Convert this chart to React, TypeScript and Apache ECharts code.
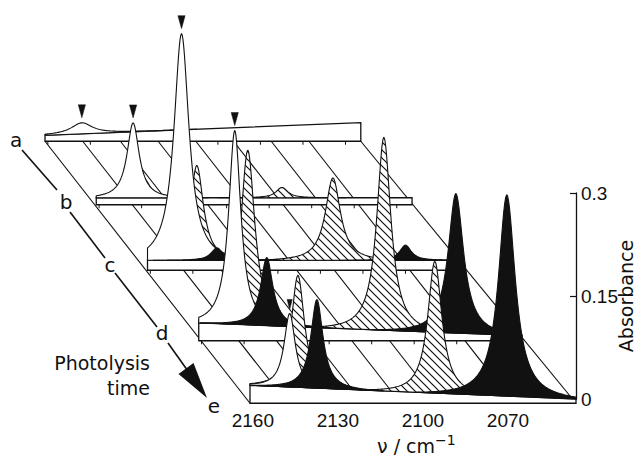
import React, { useEffect, useRef } from 'react';
import * as echarts from 'echarts';

// ---- data ----
const spectrumLabels = ['a', 'b', 'c', 'd', 'e'];
// peak rows: [wavenumber / cm-1, peak absorbance above baseline, half width at half height / cm-1, fill (0 open, 1 hatched, 2 solid), arrow mark]
const peaksA = [[2148, 0.016, 4.5, 0, 1]];
const peaksB = [[2144, 0.027, 2.5, 1, 0], [2095.5, 0.015, 2.5, 1, 0], [2148, 0.109, 2.6, 0, 1]];
const peaksC = [[2143.6, 0.138, 2.8, 1, 0], [2095.6, 0.12, 3.2, 1, 0], [2149, 0.33, 3.2, 0, 1], [2136.5, 0.018, 2.5, 2, 0], [2070, 0.022, 2.5, 2, 0]];
const peaksD = [[2143.7, 0.254, 3.0, 1, 0], [2095.7, 0.281, 3.0, 1, 0], [2148.3, 0.282, 2.6, 0, 1], [2137, 0.099, 2.6, 2, 0], [2070.3, 0.203, 3.3, 2, 0]];
const peaksE = [[2144.1, 0.163, 2.8, 1, 0], [2095.8, 0.192, 3.0, 1, 0], [2147, 0.107, 2.4, 0, 1], [2137.4, 0.129, 2.6, 2, 0], [2070.4, 0.293, 3.6, 2, 0]];
const spectraPeaks = [peaksA, peaksB, peaksC, peaksD, peaksE];
const baselineStart = [0.02, 0.02, 0.02, 0.02, 0.02];
const baselineEnd = [0.039, 0.02, 0.02, 0.001, 0.0];
const slabStart = [2161, 2161, 2161, 2161, 2161];
const slabEnd = [2049.6, 2049.6, 2049.6, 2047, 2046];
const guideFrom = [2161, 2147.7, 2134.4, 2121.1, 2107.8, 2094.5, 2081.2, 2067.9, 2049.6];
const guideTo = [2161, 2147.7, 2134.4, 2121.1, 2107.8, 2094.5, 2081.2, 2067.9, 2046];
const xTickValues = [2160, 2145, 2130, 2115, 2100, 2085, 2070, 2055];
const xLabelValues = [2160, 2130, 2100, 2070];
const yTickValues = [0, 0.15, 0.3];

// ---- layout / style ----
const NU_L = 2161;
const NU_R = 2046;
const DX = 51.25;
const DY = 62.5;
const slabDepth = [6, 7, 10, 18, 18];
const INK = '#111';
const TEXT_FONT = 'DejaVu Sans';
const NUM_FONT = 'Liberation Sans';

function baseAt(k: number, nu: number) {
  const t = (NU_L - nu) / (NU_L - NU_R);
  return baselineStart[k] + (baselineEnd[k] - baselineStart[k]) * t;
}

function makePoint(api: any, k: number) {
  const ox = (k - 4) * DX;
  const oy = (k - 4) * DY;
  return (nu: number, a: number) => {
    const p = api.coord([nu, a]);
    return [p[0] + ox, p[1] + oy];
  };
}

function slabBottom(api: any, k: number) {
  const P = makePoint(api, k);
  return P(slabStart[k], baseAt(k, slabStart[k]))[1] + slabDepth[k];
}

function makeHatch() {
  const c = document.createElement('canvas');
  c.width = 8;
  c.height = 8;
  const ctx = c.getContext('2d')!;
  ctx.fillStyle = '#fff';
  ctx.fillRect(0, 0, 8, 8);
  ctx.strokeStyle = INK;
  ctx.lineWidth = 1.2;
  ctx.beginPath();
  ctx.moveTo(-1, -1);
  ctx.lineTo(9, 9);
  ctx.moveTo(-1, 7);
  ctx.lineTo(1, 9);
  ctx.moveTo(7, -1);
  ctx.lineTo(9, 1);
  ctx.stroke();
  return c;
}

export default function App() {
  const ref = useRef<HTMLDivElement>(null);
  useEffect(() => {
    const el = ref.current!;
    const chart = echarts.init(el, undefined, { renderer: 'svg' });
    const hatchFill: any = { image: makeHatch(), repeat: 'repeat', imageWidth: 8, imageHeight: 8 };
    const fills: any[] = ['#fff', hatchFill, INK];

    const series: any[] = [];
    series.push({
      type: 'custom',
      z: 1,
      silent: true,
      data: guideFrom.map((f, i) => [f, guideTo[i]]),
      renderItem: (_p: any, api: any) => {
        const f = api.value(0);
        const t = api.value(1);
        const xa = makePoint(api, 0)(f, 0)[0];
        const xe = makePoint(api, 4)(t, 0)[0];
        return {
          type: 'line',
          shape: { x1: xa, y1: slabBottom(api, 0), x2: xe, y2: slabBottom(api, 4) },
          style: { stroke: INK, lineWidth: 1.1 },
        };
      },
    });

    for (let k = 0; k < 5; k++) {
      series.push({
        type: 'custom',
        name: 'slab ' + spectrumLabels[k],
        z: 10 + 2 * k,
        silent: true,
        data: [[slabStart[k], slabEnd[k]]],
        renderItem: (_p: any, api: any) => {
          const P = makePoint(api, k);
          const l = api.value(0);
          const r = api.value(1);
          const tl = P(l, baseAt(k, l));
          const tr = P(r, baseAt(k, r));
          const yb = tl[1] + slabDepth[k];
          const children: any[] = [
            {
              type: 'polygon',
              shape: { points: [tl, tr, [tr[0], yb], [tl[0], yb]] },
              style: { fill: '#fff', stroke: INK, lineWidth: 1.3 },
            },
          ];
          if (k < 4) {
            for (const nu of xTickValues) {
              const x = P(nu, 0)[0];
              children.push({
                type: 'line',
                shape: { x1: x, y1: yb, x2: x, y2: yb + 3.5 },
                style: { stroke: INK, lineWidth: 1 },
              });
            }
          }
          return { type: 'group', children };
        },
      });
      series.push({
        type: 'custom',
        name: 'spectrum ' + spectrumLabels[k],
        z: 11 + 2 * k,
        silent: true,
        data: spectraPeaks[k],
        renderItem: (_p: any, api: any) => {
          const P = makePoint(api, k);
          const c = api.value(0);
          const A = api.value(1);
          const w = api.value(2);
          const ft = api.value(3);
          const marked = api.value(4);
          const span = 9 * w;
          const edge = 1 / 82;
          const lo = Math.max(slabEnd[k], c - span);
          const hi = Math.min(slabStart[k], c + span);
          const nus: number[] = [];
          const n = 160;
          for (let j = 0; j <= n; j++) nus.push(hi - ((hi - lo) * j) / n);
          nus.push(c);
          nus.sort((x, y) => y - x);
          const pts: number[][] = [];
          for (const nu of nus) {
            const u = (nu - c) / w;
            const h = Math.max(0, (A * (1 / (1 + u * u) - edge)) / (1 - edge));
            pts.push(P(nu, baseAt(k, nu) + h));
          }
          pts.push(P(lo, baseAt(k, lo)));
          pts.push(P(hi, baseAt(k, hi)));
          const children: any[] = [
            {
              type: 'polygon',
              shape: { points: pts },
              style: { fill: fills[ft], stroke: INK, lineWidth: 1.1, lineJoin: 'round' },
            },
          ];
          if (marked) {
            const top = P(c, baseAt(k, c) + A);
            const small = k === 4;
            const hw = small ? 2.6 : 3.6;
            const hh = small ? 10 : 13;
            const gap = small ? 4 : 5;
            children.push({
              type: 'polygon',
              shape: {
                points: [
                  [top[0], top[1] - gap],
                  [top[0] - hw, top[1] - gap - hh],
                  [top[0] + hw, top[1] - gap - hh],
                ],
              },
              style: { fill: INK, stroke: INK, lineWidth: 0.5 },
            });
          }
          return { type: 'group', children };
        },
      });
    }

    const letterPos = [
      [16, 140],
      [66, 202],
      [110, 265],
      [162, 333],
      [214, 406],
    ];
    const graphic: any[] = [];
    spectrumLabels.forEach((s, i) => {
      graphic.push({
        type: 'text',
        x: letterPos[i][0],
        y: letterPos[i][1],
        style: { text: s, font: `20px "${TEXT_FONT}"`, fill: INK, align: 'center', verticalAlign: 'middle' },
      });
    });
    const segs = [
      [22, 150, 57, 190],
      [70, 212, 105, 258],
      [115, 273, 157, 327],
      [168, 343, 200, 388],
    ];
    segs.forEach((s) =>
      graphic.push({
        type: 'line',
        shape: { x1: s[0], y1: s[1], x2: s[2], y2: s[3] },
        style: { stroke: INK, lineWidth: 1.6 },
      })
    );
    graphic.push({
      type: 'polygon',
      shape: { points: [[207, 398], [193.5, 363], [178.5, 374]] },
      style: { fill: INK },
    });
    graphic.push({
      type: 'text',
      x: 150,
      y: 363,
      style: { text: 'Photolysis', font: `19px "${TEXT_FONT}"`, fill: INK, align: 'right', verticalAlign: 'middle' },
    });
    graphic.push({
      type: 'text',
      x: 150,
      y: 388,
      style: { text: 'time', font: `19px "${TEXT_FONT}"`, fill: INK, align: 'right', verticalAlign: 'middle' },
    });
    graphic.push({
      type: 'text',
      x: 377,
      y: 433,
      style: {
        text: '{a|ν / cm}{b|−1}',
        fill: INK,
        align: 'left',
        verticalAlign: 'top',
        rich: {
          a: { fontSize: 19, fontFamily: TEXT_FONT, lineHeight: 25, fill: INK },
          b: { fontSize: 14, fontFamily: TEXT_FONT, lineHeight: 14, verticalAlign: 'top', fill: INK },
        },
      },
    });
    graphic.push({
      type: 'text',
      x: 626,
      y: 296,
      rotation: Math.PI / 2,
      style: { text: 'Absorbance', font: `19px "${TEXT_FONT}"`, fill: INK, align: 'center', verticalAlign: 'middle' },
    });

    const option: any = {
      animation: false,
      backgroundColor: '#fff',
      grid: { left: 250, right: 60, top: 193, bottom: 60, containLabel: false, outerBoundsMode: 'none' },
      xAxis: {
        type: 'value',
        min: NU_R,
        max: NU_L,
        inverse: true,
        offset: 4,
        axisLine: { show: true, lineStyle: { color: INK, width: 1.3 } },
        axisTick: { show: true, length: 4, customValues: xTickValues, lineStyle: { color: INK, width: 1 } },
        axisLabel: {
          customValues: xLabelValues,
          formatter: (v: number) => String(v),
          fontSize: 19,
          fontFamily: NUM_FONT,
          color: INK,
          margin: 8,
        },
        splitLine: { show: false },
      },
      yAxis: {
        type: 'value',
        min: 0,
        max: 0.3,
        position: 'right',
        axisLine: { show: true, lineStyle: { color: INK, width: 1.3 } },
        axisTick: { show: true, inside: true, length: 6, customValues: yTickValues, lineStyle: { color: INK, width: 1.2 } },
        axisLabel: {
          customValues: yTickValues,
          formatter: (v: number) => String(Math.round(v * 100) / 100),
          fontSize: 19,
          fontFamily: NUM_FONT,
          color: INK,
          margin: 5,
        },
        splitLine: { show: false },
      },
      graphic,
      series,
    };
    chart.setOption(option);
    return () => chart.dispose();
  }, []);
  return <div ref={ref} style={{ position: 'fixed', left: 0, top: 0, width: 636, height: 459 }} />;
}
